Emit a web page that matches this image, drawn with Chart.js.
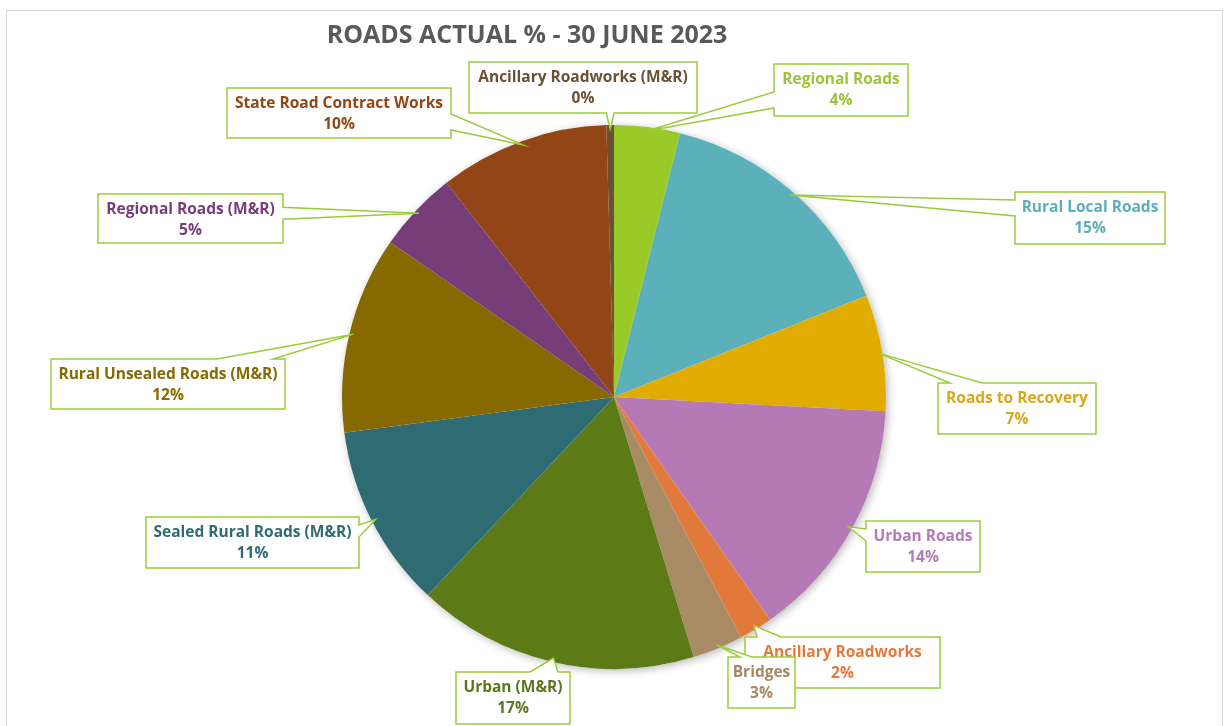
<!DOCTYPE html>
<html>
<head>
<meta charset="utf-8">
<title>Roads Actual %</title>
<script src="https://cdn.jsdelivr.net/npm/chart.js@4.4.0/dist/chart.umd.min.js"></script>
<style>
  html, body { margin: 0; padding: 0; background: #fff; }
  #wrap { position: relative; width: 1230px; height: 726px; }
</style>
</head>
<body>
<div id="wrap"><canvas id="roadsChart" width="1230" height="726"></canvas></div>
<script>
// spend share per program, 30 June 2023 (clockwise from 12 o'clock)
const categories = [
  'Regional Roads', 'Rural Local Roads', 'Roads to Recovery', 'Urban Roads',
  'Ancillary Roadworks', 'Bridges', 'Urban (M&R)', 'Sealed Rural Roads (M&R)',
  'Rural Unsealed Roads (M&R)', 'Regional Roads (M&R)', 'State Road Contract Works',
  'Ancillary Roadworks (M&R)'
];
const actualPct = [3.9, 15.0, 6.9, 14.4, 2.0, 3.0, 16.7, 10.9, 11.7, 4.8, 10.1, 0.45];

const sliceColours = [
  '#9aca27', '#5bb0ba', '#e0ac00', '#b57ab5', '#e27a3c', '#a98b65',
  '#5c7a16', '#2e6b73', '#866a00', '#763d78', '#924516', '#6b5034'
];
const labelColours = [
  '#9cc43a', '#5aafb9', '#dba617', '#b57ab5', '#e27a3c', '#a38866',
  '#5a7620', '#2e6b73', '#866a00', '#763d78', '#924516', '#6b5034'
];

// callout boxes: x, y, w, h, side the pointer leaves from, pointer half-width
const calloutBoxes = [
  [774, 64, 134, 52, 'L', 8],
  [1015, 192, 150, 52, 'L', 8],
  [938, 383, 158, 51, 'T', 16],
  [866, 521, 114, 51, 'L', 6],
  [745, 637, 195, 51, 'T', 12],
  [728, 657, 67, 51, 'T', 6],
  [456, 672, 114, 52, 'T', 14],
  [146, 517, 213, 51, 'R', 6],
  [51, 359, 234, 50, 'T', 28],
  [98, 194, 185, 49, 'R', 6],
  [227, 88, 224, 50, 'R', 8],
  [469, 62, 228, 51, 'B', 4]
];

const FONT = '"Open Sans", Lato, sans-serif';

const frameAndTitle = {
  id: 'frameAndTitle',
  beforeDraw(chart) {
    const ctx = chart.ctx;
    ctx.save();
    ctx.fillStyle = '#fff';
    ctx.fillRect(0, 0, chart.width, chart.height);
    ctx.strokeStyle = '#d9d9d9';
    ctx.lineWidth = 1;
    ctx.strokeRect(6.5, 10.5, 1216, 740);
    ctx.fillStyle = '#595959';
    ctx.font = 'bold 25px ' + FONT;
    ctx.textAlign = 'center';
    ctx.textBaseline = 'middle';
    ctx.fillText('ROADS ACTUAL % - 30 JUNE 2023', 527, 36);
    ctx.restore();
  },
  beforeDatasetsDraw(chart) {
    // soft drop shadow behind the pie
    const arc = chart.getDatasetMeta(0).data[0];
    if (!arc) return;
    const ctx = chart.ctx;
    ctx.save();
    ctx.shadowColor = 'rgba(0,0,0,0.28)';
    ctx.shadowBlur = 9;
    ctx.shadowOffsetX = 2;
    ctx.shadowOffsetY = 2;
    ctx.fillStyle = '#fff';
    ctx.beginPath();
    ctx.arc(arc.x, arc.y, arc.outerRadius, 0, Math.PI * 2);
    ctx.fill();
    ctx.restore();
  }
};

const callouts = {
  id: 'callouts',
  afterDatasetsDraw(chart) {
    const ctx = chart.ctx;
    const arcs = chart.getDatasetMeta(0).data;
    ctx.save();
    arcs.forEach((arc, i) => {
      const [bx, by, bw, bh, side, half] = calloutBoxes[i];
      const mid = (arc.startAngle + arc.endAngle) / 2;
      const r = arc.outerRadius - 4;
      const ax = arc.x + Math.cos(mid) * r;
      const ay = arc.y + Math.sin(mid) * r;
      const clamp = (v, lo, hi) => Math.max(lo, Math.min(hi, v));

      // outline: rectangle with a wedge pointer spliced into one side
      ctx.beginPath();
      ctx.moveTo(bx, by);
      if (side === 'T') {
        const c = clamp(ax, bx + 12 + half, bx + bw - 12 - half);
        ctx.lineTo(c - half, by); ctx.lineTo(ax, ay); ctx.lineTo(c + half, by);
      }
      ctx.lineTo(bx + bw, by);
      if (side === 'R') {
        const c = clamp(ay, by + 8 + half, by + bh - 8 - half);
        ctx.lineTo(bx + bw, c - half); ctx.lineTo(ax, ay); ctx.lineTo(bx + bw, c + half);
      }
      ctx.lineTo(bx + bw, by + bh);
      if (side === 'B') {
        const c = clamp(ax, bx + 12 + half, bx + bw - 12 - half);
        ctx.lineTo(c + half, by + bh); ctx.lineTo(ax, ay); ctx.lineTo(c - half, by + bh);
      }
      ctx.lineTo(bx, by + bh);
      if (side === 'L') {
        const c = clamp(ay, by + 8 + half, by + bh - 8 - half);
        ctx.lineTo(bx, c + half); ctx.lineTo(ax, ay); ctx.lineTo(bx, c - half);
      }
      ctx.closePath();
      ctx.fillStyle = '#fff';
      ctx.fill();
      ctx.strokeStyle = '#9bcb3c';
      ctx.lineWidth = 1.5;
      ctx.stroke();

      ctx.fillStyle = labelColours[i];
      ctx.font = 'bold 15.5px ' + FONT;
      ctx.textAlign = 'center';
      ctx.textBaseline = 'middle';
      const cx = bx + bw / 2;
      ctx.fillText(categories[i], cx, by + 16);
      ctx.fillText(Math.round(actualPct[i]) + '%', cx, by + 37);
    });
    ctx.restore();
  }
};

new Chart(document.getElementById('roadsChart'), {
  type: 'pie',
  data: {
    labels: categories,
    datasets: [{
      data: actualPct,
      backgroundColor: sliceColours,
      borderWidth: 0
    }]
  },
  options: {
    responsive: false,
    animation: false,
    layout: { padding: { top: 125, bottom: 57, left: 342, right: 344 } },
    plugins: {
      legend: { display: false },
      tooltip: { enabled: false },
      title: { display: false }
    }
  },
  plugins: [frameAndTitle, callouts]
});
</script>
</body>
</html>
